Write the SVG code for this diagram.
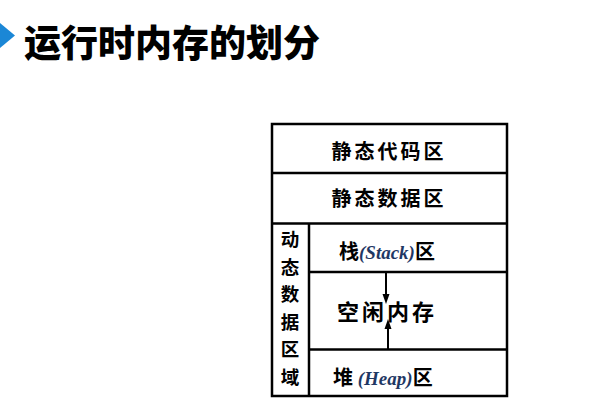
<svg xmlns="http://www.w3.org/2000/svg" width="604" height="410" viewBox="0 0 604 410">
<style>
.title{font-family:"Noto Sans CJK SC","Noto Sans",sans-serif;font-weight:900;font-size:37px;fill:#000}
.cj{font-family:"Noto Sans CJK SC",sans-serif;font-weight:700;font-size:20px;fill:#000}
.vc{font-family:"Noto Sans CJK SC",sans-serif;font-weight:700;font-size:18.5px;fill:#000}
.en{font-family:"Liberation Serif",serif;font-weight:700;font-style:italic;font-size:19px;fill:#1f3864}
.ln{stroke:#000;stroke-width:2.5;fill:none}
.ar{stroke:#000;stroke-width:2;fill:none}
.hd{fill:#000}
</style>
<rect width="604" height="410" fill="#fff"/>
<g id="title">
<polygon points="0,23 15,35.5 0,48" fill="#1b87d6"/>
<text class="title" x="24" y="57">运行时内存的划分</text>
</g>
<g id="frame">
<rect class="ln" x="272" y="124" width="235" height="272"/>
<line class="ln" x1="272" y1="173" x2="507" y2="173"/>
<line class="ln" x1="272" y1="223.5" x2="507" y2="223.5"/>
<line class="ln" x1="309" y1="223.5" x2="309" y2="396"/>
<line class="ln" x1="309" y1="272" x2="507" y2="272"/>
<line class="ln" x1="309" y1="349.5" x2="507" y2="349.5"/>
</g>
<g id="static-code">
<text class="cj" x="389" y="159" text-anchor="middle" letter-spacing="3">静态代码区</text>
</g>
<g id="static-data">
<text class="cj" x="389" y="206" text-anchor="middle" letter-spacing="3">静态数据区</text>
</g>
<g id="dynamic">
<text class="vc" x="290" y="246" text-anchor="middle">动</text>
<text class="vc" x="290" y="273.5" text-anchor="middle">态</text>
<text class="vc" x="290" y="301" text-anchor="middle">数</text>
<text class="vc" x="290" y="328.5" text-anchor="middle">据</text>
<text class="vc" x="290" y="356" text-anchor="middle">区</text>
<text class="vc" x="290" y="383.5" text-anchor="middle">域</text>
</g>
<g id="stack">
<text x="339" y="259"><tspan class="cj">栈</tspan><tspan class="en">(Stack)</tspan><tspan class="cj">区</tspan></text>
</g>
<g id="free">
<text class="cj" x="387" y="320" text-anchor="middle" letter-spacing="3" style="font-size:22px">空闲内存</text>
</g>
<g id="heap">
<text x="333" y="385"><tspan class="cj">堆</tspan><tspan class="en"> (Heap)</tspan><tspan class="cj">区</tspan></text>
</g>
<g id="connectors">
<line class="ar" x1="386" y1="272" x2="386" y2="295"/>
<polygon class="hd" points="382.5,294 389.5,294 386,304"/>
<line class="ar" x1="388" y1="349" x2="388" y2="328"/>
<polygon class="hd" points="384.5,329 391.5,329 388,319"/>
</g>
</svg>
